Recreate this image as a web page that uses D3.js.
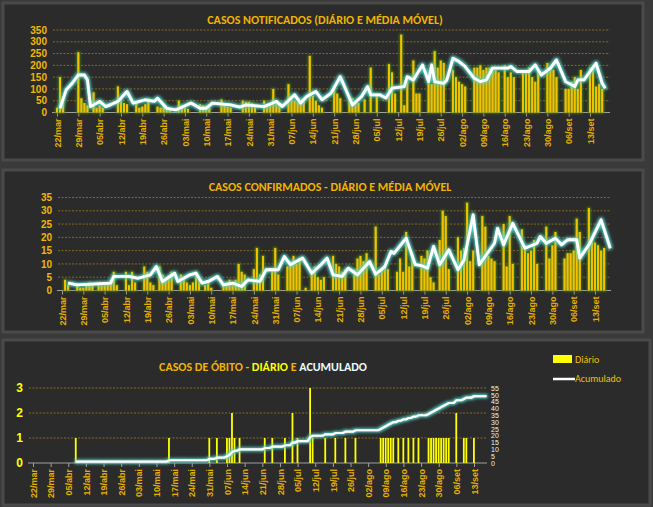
<!DOCTYPE html>
<html><head><meta charset="utf-8">
<script src="https://cdnjs.cloudflare.com/ajax/libs/d3/7.8.5/d3.min.js"></script>
<style>
body{margin:0;background:#3a3a3a;font-family:Calibri,Carlito,"Open Sans",sans-serif;}
</style></head>
<body><svg id="chart"></svg>
<script>
// day index 0 = 22/mar
var startDate = new Date(2020, 2, 22, 12);
var tickDays = d3.range(0, 176, 7);
var monthNames = ["jan","fev","mar","abr","mai","jun","jul","ago","set"];

var notificados = [
 20,150,65,0,0,0,0, 255,60,40,30,0,85,20, 30,20,0,0,0,0,110, 60,40,35,0,0,45,20,
 25,35,60,0,0,25,20, 25,15,10,0,0,50,30, 20,15,0,0,0,35,30, 30,20,0,0,0,55,35,
 25,20,0,0,0,50,45, 45,40,30,0,0,50,35, 30,100,40,30,0,0,120, 70,50,45,50,60,0,240,
 70,50,30,20,0,0,0, 115,80,60,0,0,70,60, 50,40,0,55,0,190,0, 80,0,0,0,205,170,80,
 0,330,30,130,0,220,80, 80,0,0,135,120,260,190, 220,210,0,0,180,150,130, 120,110,0,0,190,190,200,
 180,190,190,190,180,170,0, 200,150,170,150,0,0,170, 170,190,150,130,180,0,0, 210,190,180,150,0,0,100,
 100,130,150,100,180,0,0, 190,200,110,120,100,0];
var notifMedia = [[1,18],[3,96],[5,124],[7,159],[9,159],[10,138],[11,25],[14,47],[16,25],[20,47],[23,89],[25,40],
 [29,54],[32,47],[33,61],[36,18],[39,11],[44,40],[47,18],[49,18],[51,40],[57,32],[60,23],[62,32],[68,25],[72,47],
 [74,25],[78,75],[80,40],[82,68],[85,89],[87,54],[90,82],[93,152],[97,32],[100,68],[102,110],[103,75],[106,75],
 [108,61],[110,103],[114,110],[115,152],[117,138],[120,202],[122,131],[123,202],[124,131],[127,124],[128,138],
 [130,230],[132,216],[134,195],[137,145],[139,131],[141,138],[143,188],[148,188],[149,195],[151,174],[155,174],
 [157,202],[159,159],[162,188],[164,223],[167,131],[170,110],[171,138],[173,138],[177,209],[179,124],[180,103]];

var confirmados = [
 0,4,2,0,0,2,1, 1,2,3,2,0,3,2, 2,3,4,7,2,0,0, 7,2,7,3,0,0,9, 7,3,2,0,9,6,4, 5,7,0,0,6,5,3,
 2,3,7,4,0,2,3, 1,0,0,0,2,3,4, 3,4,10,7,6,0,0, 8,16,6,13,0,0,8, 16,6,0,0,9,11,13, 10,12,0,1,0,7,9,
 5,4,5,0,0,13,10, 9,7,8,0,0,8,12, 13,11,14,0,0,24,6, 8,9,8,0,0,7,12, 7,22,9,14,0,0,13, 12,15,5,3,0,19,30,
 28,8,0,0,20,15,16, 33,11,15,0,0,28,24, 13,12,11,0,0,25,9, 28,10,0,0,23,16,14, 15,19,10,0,0,24,12,
 17,22,0,0,12,14,14, 15,27,22,0,0,31,19, 18,17,15,16,0,0];
var confMedia = [[2,2.8],[5,2.1],[16,2.8],[17,5.3],[22,5.3],[25,4.6],[29,5.9],[31,9],[33,3.4],[37,6.5],[38,3.4],
 [42,5.9],[44,6.5],[46,2.8],[48,3.4],[51,5.3],[53,2.1],[56,2.8],[59,1.5],[61,4],[65,3.4],[67,7.8],[71,7.8],
 [73,12.8],[75,9.7],[79,12.2],[82,6.5],[85,9.7],[87,12.2],[89,5.9],[92,5.3],[94,8.4],[97,5.9],[101,10.9],
 [103,6.1],[106,9],[108,14.7],[109,14],[113,19.7],[116,9.7],[118,9.4],[120,8.4],[122,16.6],[124,9.7],[127,15.3],
 [130,7.8],[132,11.5],[135,28.5],[137,9.7],[142,17.8],[143,23.4],[145,17.2],[148,25.3],[152,15.9],[156,17.8],
 [157,20.3],[159,17.8],[162,19.7],[164,17.2],[166,19.1],[169,19.1],[170,12.2],[173,17.2],[177,26.6],[180,15.9]];

var obitoDias = [17,54,70,73,77,78,79,80,82,92,95,100,103,105,110,111,116,120,124,128,138,139,140,141,142,143,
 145,147,149,151,153,157,158,159,160,161,162,163,164,165,168,171,172,175];
var obitoVals = [1,1,1,1,1,1,2,1,1,1,1,1,2,1,3,1,1,1,1,1,1,1,1,1,1,1,1,1,1,1,1,1,1,1,1,1,1,1,1,1,2,1,1,1];

var W = 653, H = 507;
var svg = d3.select("#chart").attr("width", W).attr("height", H);
var defs = svg.append("defs");
function glow(id, color, dev) {
  var f = defs.append("filter").attr("id", id).attr("x", "-20%").attr("y", "-50%").attr("width", "140%").attr("height", "200%");
  f.append("feMorphology").attr("in", "SourceAlpha").attr("operator", "dilate").attr("radius", 1.2).attr("result", "d");
  f.append("feGaussianBlur").attr("in", "d").attr("stdDeviation", dev).attr("result", "b");
  f.append("feFlood").attr("flood-color", color);
  f.append("feComposite").attr("in2", "b").attr("operator", "in").attr("result", "g");
  var m = f.append("feMerge");
  m.append("feMergeNode").attr("in", "g");
  m.append("feMergeNode").attr("in", "SourceGraphic");
}
glow("gBar", "#3d7a14", 1.2);
glow("gLine", "#4fd6cc", 1.6);

function label(d) {
  var dt = d3.timeDay.offset(startDate, d);
  return d3.timeFormat("%d")(dt) + "/" + monthNames[dt.getMonth()];
}

function panel(p) {
  var g = svg.append("g");
  g.append("rect").attr("x", p.box[0]).attr("y", p.box[1]).attr("width", p.box[2]).attr("height", p.box[3])
    .attr("fill", "#2b2b2b").attr("stroke", "#4a4a4a").attr("stroke-width", 3);
  var x = d3.scaleLinear().domain([0, 175]).range([p.x0, p.x1]);
  var y = d3.scaleLinear().domain([0, p.ymax]).range([p.y0, p.y1]);
  g.append("g").selectAll("line").data(p.grid).join("line")
    .attr("x1", p.x0 - 4).attr("x2", p.xend).attr("y1", y).attr("y2", y)
    .attr("stroke", "#9a7d1e").attr("stroke-dasharray", "2,1.5").attr("stroke-width", 0.8);
  var ya = g.append("g").attr("transform", "translate(" + (p.x0 - 6) + ",0)")
    .call(d3.axisLeft(y).tickValues(p.ticks).tickFormat(d3.format("d")).tickSize(0).tickPadding(4));
  ya.select(".domain").remove();
  ya.selectAll("text").attr("fill", p.ycolor).style("font-size", p.yfs + "px").style("font-weight", "bold");
  var xa = g.append("g").attr("transform", "translate(0," + p.y0 + ")")
    .call(d3.axisBottom(x).tickValues(tickDays).tickFormat(label).tickSize(4));
  xa.select(".domain").attr("stroke", "#a0a0a0").attr("d", "M" + (p.x0 - 5) + ",0H" + p.xend);
  xa.selectAll("line").attr("stroke", "#a0a0a0");
  xa.selectAll("text").attr("transform", "rotate(-90)").attr("text-anchor", "end")
    .attr("x", -6).attr("y", 0).attr("dy", "0.35em")
    .attr("fill", "#e3b000").style("font-size", "9px").style("font-weight", "bold");
  var t = g.append("text").attr("x", p.tx).attr("y", p.ty).attr("text-anchor", "middle")
    .style("font-size", "12px").style("font-weight", "bold");
  p.title.forEach(function(s) { t.append("tspan").text(s[0]).attr("fill", s[1]); });
  return { g: g, x: x, y: y };
}

// Panel 1
var p1 = panel({ box: [3, 3, 640, 157], x0: 57, x1: 590, xend: 610, y0: 112.5, y1: 30, ymax: 350,
  grid: d3.range(50, 351, 50), ticks: d3.range(0, 351, 50), ycolor: "#f0b800", yfs: 10,
  tx: 325, ty: 24, title: [["CASOS NOTIFICADOS (DIÁRIO E MÉDIA MÓVEL)", "#f0b400"]] });
p1.g.append("g").attr("filter", "url(#gBar)").selectAll("rect").data(notificados).join("rect")
  .attr("x", function(d, i) { return p1.x(i) - 1; }).attr("width", 2)
  .attr("y", function(d) { return p1.y(d); }).attr("height", function(d) { return p1.y(0) - p1.y(d); })
  .attr("fill", "#f2c200");
p1.g.append("path").datum(notifMedia).attr("filter", "url(#gLine)")
  .attr("d", d3.line().x(function(d) { return p1.x(d[0]); }).y(function(d) { return p1.y(d[1]); }))
  .attr("fill", "none").attr("stroke", "#ffffff").attr("stroke-width", 2.8).attr("stroke-linejoin", "round");

// Panel 2
var p2 = panel({ box: [3, 170, 640, 162], x0: 62, x1: 595, xend: 611, y0: 290.5, y1: 197.5, ymax: 35,
  grid: d3.range(5, 36, 5), ticks: d3.range(0, 36, 5), ycolor: "#f0b800", yfs: 10,
  tx: 330, ty: 191, title: [["CASOS CONFIRMADOS - DIÁRIO E MÉDIA MÓVEL", "#f0b400"]] });
p2.g.append("g").attr("filter", "url(#gBar)").selectAll("rect").data(confirmados).join("rect")
  .attr("x", function(d, i) { return p2.x(i) - 1; }).attr("width", 2)
  .attr("y", function(d) { return p2.y(d); }).attr("height", function(d) { return p2.y(0) - p2.y(d); })
  .attr("fill", "#f2c200");
p2.g.append("path").datum(confMedia).attr("filter", "url(#gLine)")
  .attr("d", d3.line().x(function(d) { return p2.x(d[0]); }).y(function(d) { return p2.y(d[1]); }))
  .attr("fill", "none").attr("stroke", "#ffffff").attr("stroke-width", 2.8).attr("stroke-linejoin", "round");

// Panel 3
var p3 = panel({ box: [3, 340, 647, 165], x0: 33, x1: 474, xend: 487, y0: 463, y1: 388, ymax: 3,
  grid: [1, 2, 3], ticks: [0, 1, 2, 3], ycolor: "#ffff00", yfs: 12,
  tx: 263, ty: 371, title: [["CASOS DE ÓBITO - ", "#f0b400"], ["DIÁRIO ", "#ffff00"], ["E ", "#f0b400"], ["ACUMULADO", "#e8fbff"]] });
p3.g.append("g").selectAll("rect").data(obitoDias).join("rect")
  .attr("x", function(d) { return p3.x(d) - 1; }).attr("width", 1.8)
  .attr("y", function(d, i) { return p3.y(obitoVals[i]); })
  .attr("height", function(d, i) { return p3.y(0) - p3.y(obitoVals[i]); })
  .attr("fill", "#ffff00");
// accumulated deaths, derived from the daily list
var perDay = d3.range(0, 181).map(function(d) { var k = obitoDias.indexOf(d); return k < 0 ? 0 : obitoVals[k]; });
var acum = d3.cumsum(perDay);
var yR = d3.scaleLinear().domain([0, 55]).range([463, 388]);
var accPts = d3.range(17, 181).map(function(d) { return [d, acum[d]]; });
p3.g.append("path").datum(accPts).attr("filter", "url(#gLine)")
  .attr("d", d3.line().x(function(d) { return p3.x(d[0]); }).y(function(d) { return yR(d[1]); }))
  .attr("fill", "none").attr("stroke", "#ffffff").attr("stroke-width", 2.2);
var yra = p3.g.append("g").attr("transform", "translate(489,0)")
  .call(d3.axisRight(yR).tickValues(d3.range(0, 56, 5)).tickSize(0).tickPadding(2));
yra.select(".domain").remove();
yra.selectAll("text").attr("fill", "#e8f6f6").style("font-size", "7px");
// legend
var lg = p3.g.append("g").style("font-size", "10px");
lg.append("rect").attr("x", 553).attr("y", 355).attr("width", 19).attr("height", 8).attr("fill", "#ffff00");
lg.append("text").attr("x", 575).attr("y", 363).attr("fill", "#f0c000").text("Diário");
lg.append("line").attr("x1", 553).attr("x2", 575).attr("y1", 379).attr("y2", 379)
  .attr("stroke", "#fff").attr("stroke-width", 2.5);
lg.append("text").attr("x", 575).attr("y", 382).attr("fill", "#f0c000").text("Acumulado");
</script></body></html>
